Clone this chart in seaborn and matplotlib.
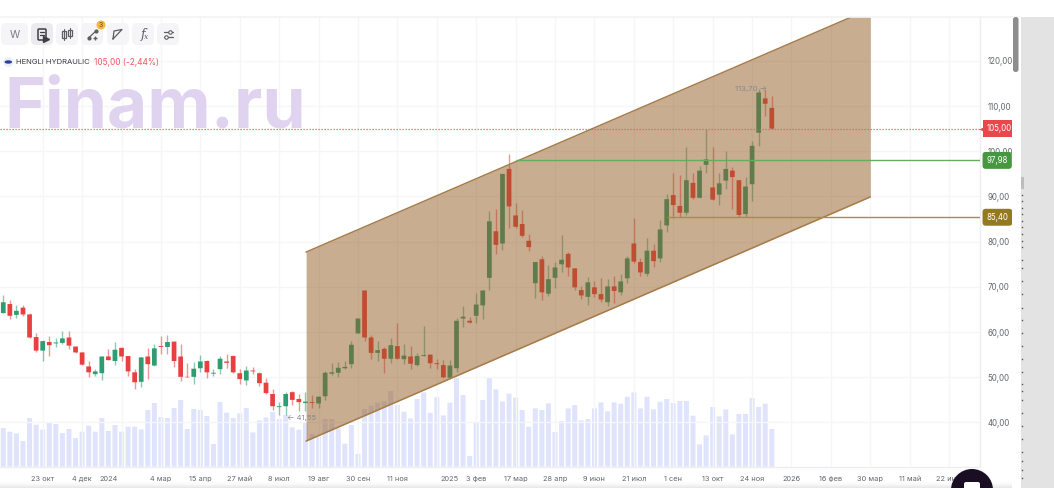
import numpy as np
import pandas as pd
import seaborn as sns
import matplotlib.pyplot as plt
from matplotlib.patches import Circle, Ellipse, FancyBboxPatch, Rectangle

# weekly candles, price values
opens = [64.2,66.2,63.8,65.4,63.9,58.9,55.9,57.8,57.5,57.6,58.8,56.8,55.5,52.4,50.7,50.9,54.6,53.6,56.5,54.7,
         51.1,49.0,54.6,52.6,56.9,56.7,57.9,54.6,50.1,50.1,52.0,53.6,50.8,51.8,53.5,54.7,50.9,49.3,51.5,50.9,
         48.8,46.3,43.4,43.6,46.7,45.2,44.3,44.5,44.2,45.8,50.8,51.0,52.0,52.9,59.7,69.2,58.8,55.4,56.3,54.1,
         56.9,54.0,54.6,52.7,54.7,55.0,53.1,52.7,49.9,52.0,63.0,62.5,63.6,65.9,72.0,82.3,79.6,96.1,85.8,83.9,
         80.2,70.8,76.1,68.5,72.0,75.0,77.3,74.1,69.3,67.8,69.9,68.4,66.6,70.1,68.8,71.9,79.6,75.5,72.9,78.0,
         76.3,83.6,90.3,87.9,86.4,93.0,89.7,97.0,92.0,90.4,93.5,95.7,93.6,86.1,92.7,104.1,111.7,109.6]
highs = [68.2,67.0,66.0,66.1,64.2,59.9,58.2,59.1,58.8,60.2,60.2,56.9,55.7,53.6,51.8,54.7,56.2,57.7,56.8,54.7,
         51.8,54.5,56.5,57.3,59.1,59.3,57.9,57.4,53.2,53.3,54.9,53.9,51.8,54.8,55.1,54.9,51.8,52.5,52.2,51.1,
         49.8,47.4,44.5,46.7,47.0,46.3,46.7,46.0,45.9,51.5,53.1,53.3,53.6,58.1,63.0,69.2,59.4,58.1,56.8,58.8,
         61.9,57.3,56.9,55.4,61.3,55.2,54.1,53.8,53.8,63.2,65.8,63.4,68.7,69.2,86.7,87.2,95.0,99.3,88.5,87.0,
         81.6,75.6,76.9,74.9,75.6,81.5,77.8,74.1,70.1,72.2,71.4,71.9,71.8,72.5,72.8,76.8,85.3,76.3,80.8,79.5,
         84.8,90.5,95.3,94.7,100.9,95.3,96.8,104.9,100.9,95.3,100.0,96.5,93.7,94.2,102.3,113.7,113.6,112.2]
lows = [64.2,63.0,63.2,63.6,58.6,55.7,53.6,54.6,56.7,57.3,56.2,55.4,52.7,50.0,50.2,49.3,53.8,52.8,53.6,50.3,
        47.3,47.9,49.6,52.5,55.2,55.2,52.3,49.2,50.0,48.5,51.2,49.8,50.3,50.8,52.0,51.0,48.6,48.2,50.7,48.1,
        46.4,42.8,41.7,41.55,43.9,42.5,42.5,43.1,43.3,45.0,50.5,50.0,51.9,52.0,59.7,58.0,54.0,53.5,51.0,53.1,
        54.0,52.9,51.9,52.6,54.6,52.1,51.8,49.9,49.8,51.1,61.2,62.0,62.1,62.9,69.2,77.2,78.2,83.1,83.0,81.1,
        78.0,67.6,67.1,68.0,69.7,73.2,72.5,69.2,67.3,66.1,67.8,66.7,65.8,66.5,68.1,70.9,75.2,72.4,72.5,74.5,
        75.4,82.2,85.2,85.5,85.9,89.5,89.7,95.3,89.2,88.2,91.6,87.2,85.5,85.5,89.1,101.1,107.8,104.9]
closes = [66.6,63.6,64.7,63.9,58.8,55.9,58.0,57.1,57.7,58.6,57.0,55.5,52.8,51.1,51.3,54.6,53.8,56.1,54.6,51.3,
          48.9,54.4,52.9,56.4,56.7,57.8,53.6,50.1,50.0,51.9,53.5,51.1,51.0,54.1,53.2,51.1,49.6,51.5,51.3,48.7,
          46.5,43.6,43.6,46.3,45.0,44.5,44.6,44.3,45.7,51.0,51.1,52.1,52.3,57.2,63.0,58.8,55.4,56.0,54.1,57.1,
          54.1,54.8,53.0,54.7,54.9,53.1,52.9,50.0,52.6,62.5,63.4,62.1,66.1,69.2,84.5,79.3,95.0,87.8,83.3,81.3,
          78.8,75.5,68.8,71.7,74.3,76.0,74.3,69.9,68.1,71.0,68.4,67.2,70.1,69.1,71.2,76.3,75.6,73.2,78.0,75.7,
          82.7,89.4,88.1,86.4,93.6,89.7,95.7,98.2,89.3,92.9,96.1,94.3,85.9,92.2,101.2,113.0,110.5,105.0]
# volume has no scale on the chart, so it is in relative units
volumes = [38.7,35.0,33.3,25.7,48.7,42.0,37.0,44.3,42.7,33.7,37.7,28.7,35.0,41.0,35.0,48.7,35.7,41.7,35.0,40.0,
           40.0,37.3,56.7,63.7,49.7,48.7,58.7,66.7,37.7,57.7,56.7,50.7,22.7,64.7,54.0,48.7,53.3,58.7,34.3,46.3,
           49.3,54.7,47.7,51.7,39.3,37.0,44.3,32.7,30.0,47.7,47.7,38.3,23.0,41.7,12.7,57.7,61.0,64.0,65.3,75.7,
           61.7,55.0,48.3,67.7,74.3,54.0,69.7,51.3,64.0,90.0,71.7,10.7,43.7,66.7,89.3,77.3,65.3,73.0,69.0,56.7,
           40.0,58.3,56.7,63.3,34.7,45.7,58.3,61.7,46.3,47.7,58.3,64.3,55.3,64.3,63.0,70.0,74.3,58.3,70.0,57.3,
           65.0,67.7,63.7,65.7,65.7,51.0,22.3,31.3,59.7,50.3,57.3,32.3,52.7,52.7,68.7,59.7,63.0,37.7]

price_ticks = [40, 50, 60, 70, 80, 90, 100, 110, 120]
date_ticks = [6, 12, 18, 24, 30, 36, 42, 48, 54, 60, 66, 72, 78, 84, 90, 96, 102, 108, 114, 120, 126, 132, 138, 144]
date_labels = ['23 окт', '4 дек', '', '4 мар', '15 апр', '27 май', '8 июл', '19 авг', '30 сен', '11 ноя', '',
               '3 фев', '17 мар', '28 апр', '9 июн', '21 июл', '1 сен', '13 окт', '24 ноя', '2026', '16 фев',
               '30 мар', '11 май', '22 июн']
year_ticks = [16, 68]
year_labels = ['2024', '2025']

channel_x = [46.1, 132]
channel_low = [35.9, 89.9]
channel_high = [77.7, 131.5]

last_price = 105.00
green_level = 97.98
green_start = 78
olive_level = 85.40
olive_start = 101

GREEN = '#2f9c72'
RED = '#e8403f'
GRID = '#f6f6f8'
TEXT = '#62666c'

sns.set_theme(style='white')
plt.rcParams['font.family'] = ['Inter', 'DejaVu Sans']

W, H = 1054, 488
fig = plt.figure(figsize=(W / 100, H / 100), dpi=100)
pos = [0, (H - 466.7) / H, 980 / W, 449.7 / H]

# volume sits on its own axes underneath the candles
ax_vol = fig.add_axes(pos)
df = pd.DataFrame({'week': np.arange(len(volumes)), 'volume': volumes})
sns.barplot(data=df, x='week', y='volume', native_scale=True, width=0.76, color='#dfe4fc',
            saturation=1, linewidth=0, ax=ax_vol)
for p in ax_vol.patches:
    p.set_snap(False)
ax_vol.set_xlim(-0.5, 148.7)
ax_vol.set_ylim(0, 449.7)
ax_vol.axis('off')

ax = fig.add_axes(pos, facecolor='none')
weeks = np.arange(len(opens))
o, h, l, c = map(np.array, (opens, highs, lows, closes))
colors = np.where(c >= o, GREEN, RED)

ax.vlines(weeks, l, h, colors=colors, lw=1, alpha=0.55, zorder=3)
bodies = ax.bar(weeks, np.abs(c - o), bottom=np.minimum(o, c), width=0.72, color=colors, edgecolor='none',
                linewidth=0, zorder=4)
for p in bodies:
    p.set_snap(False)

ax.set_xlim(-0.5, 148.7)
ax.set_ylim(30.22, 129.7)

# price channel goes over the candles and the volume
ax.fill_between(channel_x, channel_low, channel_high, color='#935c24', alpha=0.5, lw=0, zorder=5)
ax.plot(channel_x, channel_low, color='#a67c4a', lw=1.1, zorder=6)
ax.plot(channel_x, channel_high, color='#a67c4a', lw=1.1, zorder=6)

# horizontal levels
ax.axhline(last_price, color='#f0565e', lw=0.9, ls=(0, (1, 1.4)), zorder=6)
ax.hlines(green_level, green_start, 148.7, color='#62ae5c', lw=1, zorder=6)
ax.hlines(olive_level, olive_start, 148.7, color='#a4903f', lw=1, zorder=6)

# min / max labels
i_min, i_max = int(np.argmin(l)), int(np.argmax(h))
ax.annotate('← ' + f'{l[i_min]:.2f}'.replace('.', ','), (i_min, l[i_min]), xytext=(1, -2),
            textcoords='offset points', fontsize=5.6, color='#85888c', va='center', zorder=7)
ax.annotate(f'{h[i_max]:.2f}'.replace('.', ',') + ' →', (i_max, h[i_max]), xytext=(-17, 0),
            textcoords='offset points', fontsize=5.6, color='#85888c', va='center', ha='left', zorder=7)

# axes
ax.set_xticks(date_ticks)
ax.set_xticklabels(date_labels)
ax.set_xticks(year_ticks, minor=True)
ax.set_xticklabels(year_labels, minor=True)
ax.yaxis.tick_right()
ax.set_yticks(price_ticks)
ax.set_yticklabels([f'{v},00' for v in price_ticks])
ax.tick_params(axis='x', which='both', length=0, labelsize=5.3, labelcolor=TEXT, pad=10.2)
ax.tick_params(axis='y', length=0, labelsize=5.7, labelcolor=TEXT, pad=5.5)
for t in ax.get_xticklabels() + ax.get_xticklabels(minor=True):
    t.set_va('baseline')
ax.grid(True, which='major', color=GRID, lw=1, zorder=0)
ax.set_axisbelow(True)
for side in ['top', 'left']:
    ax.spines[side].set_visible(False)
for side in ['bottom', 'right']:
    ax.spines[side].set_color('#eeeef0')
    ax.spines[side].set_linewidth(1)

# price tags on the right axis
trans = ax.get_yaxis_transform()
tag_x = 986.5 / 980
for val, col, style in [(last_price, '#e8484c', 'square,pad=0.5'),
                        (green_level, '#46973f', 'round,pad=0.5,rounding_size=0.4'),
                        (olive_level, '#937a1e', 'round,pad=0.5,rounding_size=0.4')]:
    ax.text(tag_x, val, f'{val:.2f}'.replace('.', ','), transform=trans, fontsize=5.7, color='white',
            va='center', ha='left', clip_on=False, zorder=8,
            bbox=dict(boxstyle=style, fc=col, ec='none'))
ax.plot([983 / 980], [last_price], marker='<', ms=6, color='#e8484c', mec='none', transform=trans,
        clip_on=False, zorder=8)

# page furniture, drawn in pixel coordinates
ui = fig.add_axes([0, 0, 1, 1], facecolor='none')
ui.set_axis_off()

fade = np.zeros((20, 2, 4))
fade[..., :3] = 0.83
fade[..., 3] = np.linspace(0, 0.75, 20)[:, None] ** 2
ui.imshow(fade, extent=[0, 1021, 488, 480], aspect='auto', zorder=1)
ui.set_xlim(0, W)
ui.set_ylim(H, 0)

ui.add_patch(Rectangle((0, 0), 1021, 16, fc='white', ec='none', zorder=1))
ui.plot([0, 1021], [16.5, 16.5], color='#f3f3f4', lw=1.2, zorder=1)
ui.add_patch(Rectangle((1021, 0), 33, 17, fc='white', ec='none', zorder=1))
ui.add_patch(Rectangle((1021, 17), 33, 471, fc='#e3e3e3', ec='none', zorder=1))
ui.add_patch(Rectangle((1012, 17), 9, 471, fc='white', ec='none', zorder=1))
ui.add_patch(FancyBboxPatch((1013, 17), 5.5, 55, boxstyle='round,pad=0,rounding_size=2.5',
                            fc='#8d8d8d', ec='none', zorder=2))
ui.add_patch(Rectangle((1021, 177), 3, 12, fc='#bdbdbd', ec='none', zorder=2))
scroll_marks = [195, 201, 208, 214, 221, 227, 234, 241, 247, 260, 268, 281, 294, 308, 320, 333, 346, 359,
                372, 384, 391, 400, 413, 426, 439, 452, 461, 470, 478]
ui.plot([1022] * len(scroll_marks), scroll_marks, ls='none', marker='s', ms=1, mew=0, color='#555555', zorder=3)

# toolbar
buttons = [(1, 27, '#f5f5f7'), (31, 22, '#ebebef'), (56, 22, '#f5f5f7'), (81, 22, '#f5f5f7'),
           (107, 22, '#f5f5f7'), (132, 22, '#f5f5f7'), (157, 22, '#f5f5f7')]
for bx, bw, col in buttons:
    ui.add_patch(FancyBboxPatch((bx, 23), bw, 22, boxstyle='round,pad=0,rounding_size=5', fc=col, ec='none', zorder=2))
ICON = '#5b5d63'
ui.text(14.5, 34.5, 'W', fontsize=7.5, color='#7a7c80', ha='center', va='center', zorder=3)
# template icon
ui.add_patch(FancyBboxPatch((38, 29), 8, 11, boxstyle='round,pad=0,rounding_size=1', fc='none', ec='#3d3f45', lw=1.1, zorder=3))
ui.plot([40, 44], [32, 32], color='#3d3f45', lw=0.9, zorder=3)
ui.plot([40, 44], [34.5, 34.5], color='#3d3f45', lw=0.9, zorder=3)
ui.plot([45.5], [38.5], marker='>', ms=4, color='#3d3f45', zorder=4)
# candles icon
for cx, top, bot in [(64, 31, 38), (70, 30, 36)]:
    ui.add_patch(Rectangle((cx - 2, top), 4, bot - top, fc='none', ec=ICON, lw=0.9, zorder=3))
    ui.plot([cx, cx], [top - 2, bot + 2], color=ICON, lw=0.8, zorder=3)
# line tool icon
ui.plot([88.5, 96], [38, 31], color=ICON, lw=0.9, marker='o', ms=2, zorder=3)
ui.plot([95], [37.5], marker='+', ms=3, color=ICON, zorder=3)
ui.add_patch(Circle((101, 25), 4.5, fc='#f6b93f', ec='none', zorder=4))
ui.text(101, 25, '3', fontsize=5, color='#5b4a14', ha='center', va='center', zorder=5)
# shape icon
ui.plot([113, 114, 122, 113], [39, 31, 29.5, 39], color=ICON, lw=0.9, zorder=3)
ui.text(143, 34.5, 'f', fontsize=9, style='italic', family='DejaVu Serif', color=ICON, ha='center', va='center', zorder=3)
ui.text(146.5, 37, 'x', fontsize=5.5, style='italic', family='DejaVu Serif', color=ICON, ha='center', va='center', zorder=3)
# sliders icon
ui.plot([164, 173], [31.5, 31.5], color=ICON, lw=0.9, zorder=3)
ui.plot([164, 173], [36.5, 36.5], color=ICON, lw=0.9, zorder=3)
ui.plot([170], [31.5], marker='o', ms=2.5, mfc='white', mec=ICON, mew=0.8, zorder=4)
ui.plot([166], [36.5], marker='o', ms=2.5, mfc='white', mec=ICON, mew=0.8, zorder=4)

# ticker header
ui.add_patch(Circle((8.3, 62), 5, fc='#eef0f8', ec='none', zorder=2))
ui.add_patch(Ellipse((8.3, 62), 7.5, 3.4, fc='#2c3f9c', ec='none', zorder=3))
ui.text(16.5, 62.5, 'HENGLI HYDRAULIC', fontsize=5.5, color='#3a3c42', va='center', zorder=3)
ui.text(94.5, 62.5, '105,00 (-2,44%)', fontsize=6, color='#f0565e', va='center', zorder=3)

# watermark
ui.text(4, 127, 'Finam.ru', fontsize=50, fontweight='bold', color='#e0d3f0', va='baseline', ha='left', zorder=1)

# chat button, cut off by the bottom edge
ui.add_patch(Circle((972, 490), 21, fc='#1a0e22', ec='none', zorder=6))
ui.add_patch(FancyBboxPatch((964, 482), 16, 10, boxstyle='round,pad=0,rounding_size=2', fc='white', ec='none', zorder=7))

fig.savefig('out.png', dpi=100)
